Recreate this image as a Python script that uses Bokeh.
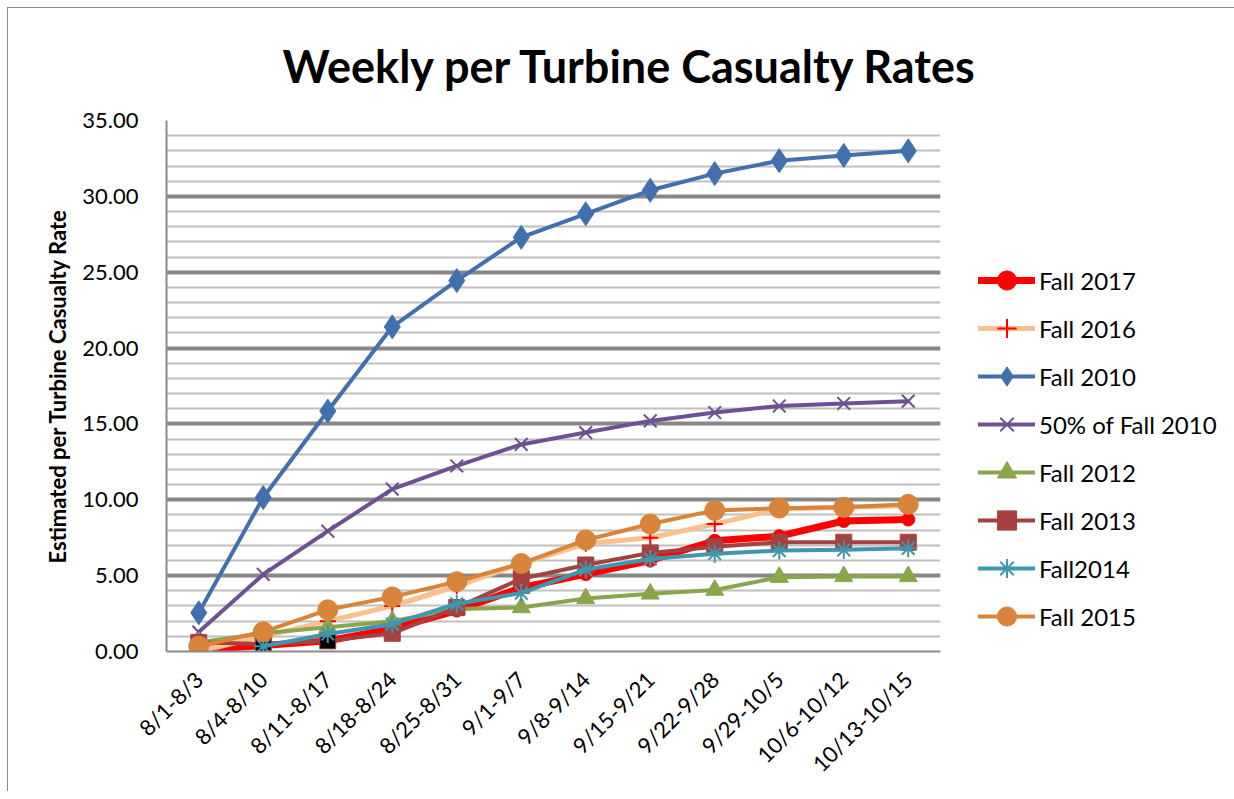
import math
from bokeh.plotting import figure
from bokeh.layouts import column
from bokeh.models import (Range1d, FactorRange, SingleIntervalTicker, NumeralTickFormatter,
                          Legend, LegendItem, ColumnDataSource, InlineStyleSheet)
from bokeh.embed import file_html
from bokeh.resources import INLINE

weeks = ["8/1-8/3", "8/4-8/10", "8/11-8/17", "8/18-8/24", "8/25-8/31", "9/1-9/7",
         "9/8-9/14", "9/15-9/21", "9/22-9/28", "9/29-10/5", "10/6-10/12", "10/13-10/15"]

fall_2017 = [0.1, 0.4, 0.7, 1.5, 2.7, 4.2, 5.1, 6.0, 7.3, 7.6, 8.6, 8.7]
fall_2016 = [0.0, 1.0, 2.0, 3.0, 4.3, 5.8, 7.1, 7.5, 8.4, 9.4, 9.5, 9.6]
fall_2010 = [2.55, 10.15, 15.85, 21.4, 24.45, 27.3, 28.85, 30.4, 31.5, 32.35, 32.7, 33.0]
half_2010 = [1.28, 5.08, 7.93, 10.7, 12.23, 13.65, 14.43, 15.2, 15.75, 16.18, 16.35, 16.5]
fall_2012 = [0.6, 1.2, 1.6, 2.0, 2.8, 2.9, 3.5, 3.8, 4.05, 4.9, 4.95, 4.95]
fall_2013 = [0.6, 0.5, 0.7, 1.2, 2.9, 4.8, 5.7, 6.5, 6.9, 7.2, 7.2, 7.2]
fall_2013_fill = ["#A5423F", "black", "black", "#A5423F", "#A5423F", "#A5423F",
                  "#A5423F", "#A5423F", "#A5423F", "#A5423F", "#A5423F", "#A5423F"]
fall_2014 = [float("nan"), 0.35, 1.15, 1.8, 3.15, 3.85, 5.4, 6.1, 6.45, 6.65, 6.7, 6.8]
fall_2015 = [0.35, 1.3, 2.75, 3.6, 4.6, 5.8, 7.35, 8.4, 9.3, 9.45, 9.5, 9.7]

FONT = "Lato"

p = figure(frame_width=774, frame_height=531, x_range=FactorRange(*weeks),
           y_range=Range1d(0, 35),
           output_backend="svg", toolbar_location=None,
           min_border_left=158, min_border_top=112,
           min_border_right=0, min_border_bottom=140)
p.outline_line_color = None
p.background_fill_color = "white"

# title
p.title.text = "Weekly per Turbine Casualty Rates"
p.title.text_font = FONT
p.title.text_font_style = "bold"
p.title.text_font_size = "45px"
p.title.text_color = "black"
p.title.align = "left"
p.title.offset = 116
p.title.standoff = 55

# axes
p.yaxis.ticker = SingleIntervalTicker(interval=5, num_minor_ticks=5)
p.yaxis.formatter = NumeralTickFormatter(format="0.00")
p.yaxis.major_label_text_font = FONT
p.yaxis.major_label_text_font_size = "22px"
p.yaxis.major_label_text_color = "black"
p.yaxis.major_tick_line_color = None
p.yaxis.minor_tick_line_color = None
p.yaxis.axis_line_color = "#8a8a8a"
p.yaxis.axis_line_width = 2
p.yaxis.major_label_standoff = 22
p.yaxis.axis_label = "Estimated per Turbine Casualty Rate"
p.yaxis.axis_label_text_font = FONT
p.yaxis.axis_label_text_font_style = "bold"
p.yaxis.axis_label_text_font_size = "22px"
p.yaxis.axis_label_text_color = "black"
p.yaxis.axis_label_standoff = 8

p.xaxis.major_label_orientation = math.pi / 4
p.xaxis.major_label_text_font = FONT
p.xaxis.major_label_text_font_size = "22px"
p.xaxis.major_label_text_color = "black"
p.xaxis.major_tick_line_color = None
p.xaxis.minor_tick_line_color = None
p.xaxis.axis_line_color = "#8a8a8a"
p.xaxis.axis_line_width = 2
p.xaxis.major_label_standoff = 18

p.xgrid.grid_line_color = None
p.ygrid.grid_line_color = "#878787"
p.ygrid.grid_line_width = 4
p.ygrid.minor_grid_line_color = "#c0c0c0"
p.ygrid.minor_grid_line_width = 2

series = [
    ("Fall 2017", fall_2017, "#FF0000", 7, "circle", 13, "#FF0000", "#FF0000", 1),
    ("Fall 2016", fall_2016, "#FAC090", 5, "cross", 16, None, "#FF0000", 2),
    ("Fall 2010", fall_2010, "#4170AD", 4, "diamond", 24, "#4170AD", "#4170AD", 1),
    ("50% of Fall 2010", half_2010, "#6C5193", 4, "x", 18, None, "#6C5193", 2),
    ("Fall 2012", fall_2012, "#8AA54A", 4, "triangle", 18, "#8AA54A", "#8AA54A", 1),
    ("Fall 2013", fall_2013, "#A5423F", 4, "square", 16, "#A5423F", "#A5423F", 1),
    ("Fall2014", fall_2014, "#3E96AF", 4, "asterisk", 18, None, "#3E96AF", 2),
    ("Fall 2015", fall_2015, "#D9843B", 4, "circle", 20, "#D9843B", "#D9843B", 1),
]

items = []
for name, vals, lc, lw, mk, ms, fc, mc, mlw in series:
    src = dict(x=weeks, y=vals)
    src["fill"] = fall_2013_fill if name == "Fall 2013" else [fc] * len(weeks)
    source = ColumnDataSource(src)
    rl = p.line("x", "y", source=source, line_color=lc, line_width=lw, line_join="round",
                line_cap="round")
    rs = p.scatter("x", "y", source=source, marker=mk, size=ms,
                   fill_color="fill" if fc else None,
                   line_color=mc, line_width=mlw)
    items.append(LegendItem(label=name, renderers=[rl, rs]))

legend = Legend(items=items, location=(38, 11), orientation="vertical",
                glyph_width=57, glyph_height=48, label_height=20, spacing=0,
                label_standoff=4, padding=0, margin=0,
                label_text_font=FONT, label_text_font_size="24px", label_text_color="black",
                background_fill_alpha=0, border_line_color=None)
p.add_layout(legend, "right")

page = column(p, stylesheets=[InlineStyleSheet(css=":host { margin-left: 7px; margin-top: 7px; "
                                                   "border-left: 1px solid #8a8a8a; "
                                                   "border-top: 1px solid #8a8a8a; }")])

open("out.html", "w").write(file_html(page, INLINE))
